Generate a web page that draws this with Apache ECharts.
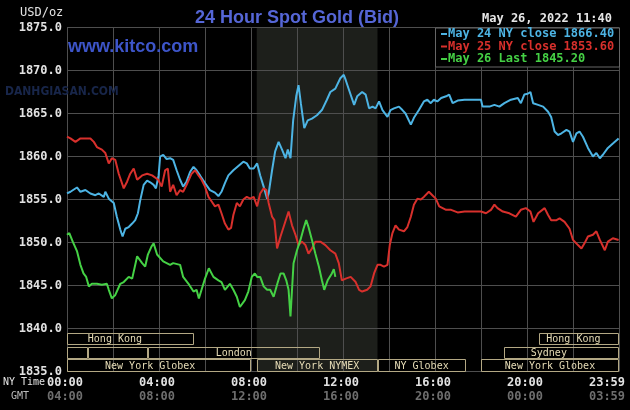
<!DOCTYPE html>
<html><head><meta charset="utf-8">
<script src="https://cdn.jsdelivr.net/npm/echarts@6.0.0/dist/echarts.min.js"></script>
<style>html,body{margin:0;padding:0;background:#000;}#c{width:630px;height:410px;}</style>
</head><body><div id="c"></div>
<script>
// time in minutes after 00:00 NY time, price in USD/oz
const may24 = [[0,1855.7],[9,1855.9],[26,1856.4],[35,1855.9],[48,1856.1],[61,1855.7],[74,1855.5],[83,1855.7],[96,1855.3],[100,1855.9],[109,1855.1],[122,1854.6],[130,1853.0],[139,1851.5],[145,1850.7],[152,1851.6],[161,1851.8],[170,1852.2],[178,1852.6],[185,1853.4],[191,1854.9],[200,1856.7],[209,1857.2],[217,1857.0],[226,1856.7],[232,1856.3],[239,1857.8],[243,1860.0],[251,1860.2],[260,1859.7],[269,1859.8],[277,1859.6],[286,1858.4],[295,1857.3],[303,1856.5],[312,1857.1],[321,1858.2],[330,1858.8],[338,1858.4],[347,1857.8],[360,1856.9],[373,1856.1],[386,1855.8],[395,1855.4],[403,1855.9],[412,1856.9],[421,1857.8],[434,1858.4],[447,1858.9],[460,1859.4],[469,1859.2],[477,1858.6],[487,1858.6],[496,1859.2],[504,1857.8],[513,1856.5],[522,1855.1],[526,1855.7],[535,1858.4],[543,1860.6],[552,1861.7],[561,1860.8],[570,1859.8],[576,1860.8],[583,1859.8],[590,1864.2],[598,1867.0],[604,1868.3],[610,1866.2],[619,1863.3],[628,1864.2],[639,1864.4],[652,1864.8],[665,1865.4],[678,1866.6],[687,1867.5],[700,1867.9],[713,1869.1],[722,1869.5],[727,1868.9],[736,1867.7],[749,1866.0],[757,1867.0],[770,1867.5],[779,1867.2],[788,1865.6],[797,1865.8],[805,1865.6],[814,1866.4],[823,1865.4],[836,1864.6],[844,1865.4],[853,1865.6],[866,1865.8],[875,1865.4],[883,1865.0],[897,1863.7],[905,1864.5],[918,1865.4],[931,1866.4],[940,1866.6],[949,1866.2],[957,1866.6],[966,1866.4],[976,1866.8],[989,1867.0],[997,1867.2],[1006,1866.2],[1019,1866.5],[1037,1866.6],[1080,1866.6],[1084,1865.8],[1102,1865.8],[1115,1866.0],[1128,1865.8],[1141,1866.2],[1158,1866.6],[1176,1866.8],[1184,1866.2],[1193,1867.2],[1202,1867.3],[1209,1867.5],[1216,1866.2],[1229,1866.0],[1242,1865.8],[1255,1865.2],[1263,1864.6],[1272,1862.9],[1281,1862.5],[1290,1862.7],[1303,1863.1],[1311,1862.9],[1320,1861.7],[1329,1862.7],[1337,1862.9],[1346,1862.3],[1359,1861.0],[1372,1860.0],[1381,1860.4],[1390,1859.8],[1398,1860.2],[1411,1861.0],[1424,1861.5],[1439,1862.1]];
const may25 = [[0,1862.3],[9,1862.1],[22,1861.7],[35,1862.1],[48,1862.1],[61,1862.1],[70,1861.7],[78,1861.1],[91,1860.8],[100,1860.4],[109,1859.2],[117,1859.8],[126,1859.6],[135,1858.0],[148,1856.3],[157,1857.1],[165,1858.0],[174,1858.6],[183,1857.3],[196,1857.8],[209,1858.0],[222,1857.8],[238,1857.3],[247,1856.5],[256,1858.4],[263,1858.6],[269,1855.9],[277,1856.7],[286,1855.5],[295,1856.1],[303,1855.9],[312,1856.7],[325,1858.0],[334,1858.4],[343,1857.8],[351,1857.3],[360,1856.5],[369,1855.3],[377,1854.8],[386,1854.2],[395,1854.4],[403,1853.4],[412,1852.2],[421,1851.5],[428,1851.7],[434,1853.2],[443,1854.6],[451,1854.2],[460,1855.0],[469,1855.3],[478,1855.1],[487,1855.3],[496,1854.2],[504,1855.7],[513,1856.3],[520,1856.1],[526,1854.6],[535,1853.0],[541,1852.6],[548,1849.3],[557,1850.7],[565,1851.8],[578,1853.6],[587,1852.0],[596,1850.9],[604,1849.7],[613,1850.1],[622,1849.7],[630,1848.7],[639,1849.3],[648,1850.1],[661,1850.1],[674,1849.7],[687,1849.1],[700,1848.7],[709,1847.6],[717,1845.6],[727,1845.8],[740,1846.0],[753,1845.4],[762,1844.5],[770,1844.3],[783,1844.5],[792,1844.9],[801,1846.4],[810,1847.4],[818,1847.4],[827,1847.2],[836,1847.4],[842,1849.7],[849,1851.1],[857,1852.0],[866,1851.5],[879,1851.3],[888,1851.8],[897,1853.0],[905,1854.4],[914,1855.1],[923,1855.0],[931,1855.3],[944,1855.9],[953,1855.5],[962,1855.1],[971,1854.2],[989,1853.8],[1002,1853.8],[1019,1853.5],[1037,1853.6],[1080,1853.6],[1093,1853.4],[1106,1853.8],[1115,1854.4],[1123,1854.0],[1137,1853.6],[1154,1853.4],[1171,1853.0],[1184,1853.8],[1197,1854.0],[1209,1853.6],[1217,1852.4],[1229,1853.4],[1246,1854.0],[1255,1853.2],[1263,1852.6],[1277,1852.6],[1285,1852.8],[1298,1852.4],[1311,1851.6],[1320,1850.3],[1333,1849.7],[1342,1849.3],[1350,1849.9],[1359,1850.7],[1372,1850.9],[1381,1851.3],[1390,1850.3],[1403,1849.1],[1411,1850.1],[1424,1850.5],[1439,1850.3]];
const may26 = [[0,1850.9],[6,1851.1],[15,1850.1],[26,1849.0],[35,1847.4],[43,1846.4],[50,1846.0],[57,1844.9],[65,1845.2],[78,1845.2],[91,1845.1],[104,1845.2],[109,1844.5],[117,1843.5],[126,1843.9],[139,1845.2],[148,1845.4],[161,1846.0],[170,1845.8],[183,1848.4],[196,1847.6],[204,1847.2],[211,1848.6],[220,1849.5],[226,1849.9],[235,1848.6],[238,1848.4],[251,1847.8],[256,1847.6],[269,1847.4],[277,1847.6],[295,1847.4],[303,1846.0],[317,1845.2],[330,1844.3],[338,1844.5],[344,1843.5],[351,1844.5],[360,1845.8],[370,1847.0],[382,1846.0],[395,1845.6],[403,1845.4],[412,1844.5],[425,1845.2],[434,1844.5],[443,1843.7],[451,1842.5],[464,1843.3],[473,1844.3],[482,1846.0],[490,1846.4],[496,1846.0],[504,1846.0],[513,1844.9],[522,1844.5],[530,1844.5],[539,1843.7],[550,1845.4],[557,1846.4],[565,1846.4],[572,1845.6],[578,1844.5],[583,1841.4],[587,1844.5],[591,1847.6],[600,1849.1],[609,1850.3],[617,1851.6],[624,1852.6],[630,1851.8],[639,1850.3],[648,1848.7],[657,1847.2],[665,1845.6],[671,1844.5],[680,1845.6],[691,1846.4],[696,1846.9],[700,1846.0]];

const seriesNames = ['May 24 NY close', 'May 25 NY close', 'May 26 Last'];
const seriesLast = ['1866.40', '1853.60', '1845.20'];

// market sessions (minutes, NY time); row 0 = top
const sessionLabels = ['Hong Kong', 'Hong Kong', '', '', 'London', 'Sydney', 'New York Globex', 'New York NYMEX', 'NY Globex', 'New York Globex'];
const sessionStart  = [0, 1230, 0, 55, 210, 1140, 0, 495, 810, 1080];
const sessionEnd    = [330, 1440, 55, 210, 660, 1440, 480, 810, 1040, 1440];
const sessionRow    = [0, 0, 1, 1, 1, 1, 2, 2, 2, 2];
const sessionLabelAt = [125, 1321, null, null, null, 1257, 217, null, null, null];

const nymexShade = [495, 810];

const yTicks = {min: 1835, max: 1875, step: 5};
const xTicks = {min: 0, max: 1440, step: 120};

const colors = ['#4db4e4', '#d8302c', '#45d145'];
const MONO = '"DejaVu Sans Mono", monospace';

const rowTop = [1839.45, 1837.9, 1836.42];
const rowBot = [1838.05, 1836.5, 1835.0];

function pad(n){ return (n < 10 ? '0' : '') + n; }

const chart = echarts.init(document.getElementById('c'), null, {renderer: 'canvas'});

const option = {
  backgroundColor: '#000',
  animation: false,
  grid: {left: 67, top: 27.5, width: 552, height: 344, containLabel: false, outerBoundsMode: 'none'},
  title: {
    text: '24 Hour Spot Gold (Bid)', left: 190, top: 4,
    textStyle: {color: '#5566d6', fontFamily: '"Liberation Sans", Arial, sans-serif', fontSize: 18, fontWeight: 'bold'}
  },
  legend: {
    orient: 'vertical', left: 441, top: 28, padding: 0, itemGap: 0.5,
    itemWidth: 6, itemHeight: 2, icon: 'rect',
    selectedMode: false,
    data: seriesNames.map((n, i) => ({name: n, textStyle: {color: colors[i]}})),
    formatter: n => n + ' ' + seriesLast[seriesNames.indexOf(n)],
    textStyle: {fontFamily: MONO, fontSize: 12, fontWeight: 'bold', padding: [0, 0, 0, -4], lineHeight: 12}
  },
  xAxis: {
    type: 'value', min: xTicks.min, max: xTicks.max, interval: xTicks.step,
    axisLine: {show: false}, axisTick: {show: false},
    splitLine: {show: true, lineStyle: {color: '#4e4e4e', width: 1}},
    axisLabel: {
      margin: 4, showMinLabel: true, showMaxLabel: true, hideOverlap: false,
      formatter: function (v) {
        if (v % 240 !== 0 && v !== 1440) return '';
        if (v === 1440) return '{c|23:59}\n{d|03:59}';
        const h = v / 60;
        return '{a|' + pad(h) + ':00}\n{b|' + pad((h + 4) % 24) + ':00}';
      },
      rich: {
        a: {color: '#e2e2e2', fontFamily: MONO, fontSize: 12, fontWeight: 'bold', lineHeight: 14.5, padding: [0, 4, 0, 0]},
        b: {color: '#6e6e6e', fontFamily: MONO, fontSize: 12, fontWeight: 'bold', lineHeight: 14.5, padding: [0, 4, 0, 0]},
        c: {color: '#e2e2e2', fontFamily: MONO, fontSize: 12, fontWeight: 'bold', lineHeight: 14.5, padding: [0, 24, 0, 0]},
        d: {color: '#6e6e6e', fontFamily: MONO, fontSize: 12, fontWeight: 'bold', lineHeight: 14.5, padding: [0, 24, 0, 0]}
      }
    }
  },
  yAxis: {
    type: 'value', min: yTicks.min, max: yTicks.max, interval: yTicks.step,
    axisLine: {show: false}, axisTick: {show: false},
    splitLine: {show: true, lineStyle: {color: '#4e4e4e', width: 1}},
    axisLabel: {
      margin: 5, color: '#e2e2e2', fontFamily: MONO, fontSize: 12, fontWeight: 'bold',
      formatter: v => v.toFixed(1)
    }
  },
  graphic: [
    {type: 'text', left: 20, top: 7, z: 5, style: {text: 'USD/oz', fill: '#e2e2e2', font: '12px ' + MONO}},
    {type: 'text', left: 3, top: 377, z: 5, style: {text: 'NY Time', fill: '#e2e2e2', font: '10px ' + MONO}},
    {type: 'text', left: 11, top: 391, z: 5, style: {text: 'GMT', fill: '#bdbdbd', font: '10px ' + MONO}},
    {type: 'text', left: 482, top: 13, z: 5, style: {text: 'May 26, 2022 11:40', fill: '#e6e6e6', font: 'bold 12px ' + MONO}},
    {type: 'text', left: 5, top: 86, z: 1, style: {text: 'DANHGIASAN.COM', fill: '#18264a', font: 'bold 12px "DejaVu Sans Condensed", sans-serif'}},
    {type: 'text', left: 68, top: 38, z: 5, style: {text: 'www.kitco.com', fill: '#3d55c9', font: 'bold 18px "Liberation Sans", Arial, sans-serif'}},
    {type: 'rect', left: 435, top: 27.5, z: 3, shape: {width: 184, height: 39}, style: {fill: '#000', stroke: '#666', lineWidth: 1}}
  ],
  series: [
    {
      type: 'custom', name: 'shade', z: -1, silent: true,
      data: [nymexShade],
      renderItem: function (params, api) {
        const p1 = api.coord([api.value(0), yTicks.max]);
        const p2 = api.coord([api.value(1), yTicks.min]);
        return {type: 'rect', shape: {x: p1[0], y: p1[1], width: p2[0] - p1[0], height: p2[1] - p1[1]}, style: {fill: '#1d1f1b'}};
      }
    },
    {
      type: 'custom', name: 'sessions', z: 1, silent: true,
      data: sessionStart.map((s, i) => [s, sessionEnd[i], sessionRow[i]]),
      renderItem: function (params, api) {
        const i = params.dataIndex;
        const s = api.value(0), e = api.value(1), r = api.value(2);
        const p1 = api.coord([s, rowTop[r]]);
        const p2 = api.coord([e, rowBot[r]]);
        const x1 = Math.round(p1[0]) + 0.5, x2 = Math.round(p2[0]) - 0.5;
        const y1 = Math.round(p1[1]) + 0.5, y2 = Math.round(p2[1]) - 0.5;
        const children = [{type: 'rect', shape: {x: x1, y: y1, width: x2 - x1, height: y2 - y1}, style: {fill: null, stroke: '#b3a884', lineWidth: 1}}];
        if (sessionLabels[i]) {
          const cx = sessionLabelAt[i] != null ? api.coord([sessionLabelAt[i], rowTop[r]])[0] : (p1[0] + p2[0]) / 2;
          children.push({type: 'text', style: {text: sessionLabels[i], x: cx, y: (y1 + y2) / 2 + 0.5, align: 'center', verticalAlign: 'middle', fill: '#e6dcb6', font: '10px ' + MONO}});
        }
        return {type: 'group', children: children};
      }
    },
    {name: seriesNames[0], type: 'line', data: may24, showSymbol: false, z: 2, lineStyle: {color: colors[0], width: 2}, itemStyle: {color: colors[0]}},
    {name: seriesNames[1], type: 'line', data: may25, showSymbol: false, z: 2, lineStyle: {color: colors[1], width: 2}, itemStyle: {color: colors[1]}},
    {name: seriesNames[2], type: 'line', data: may26, showSymbol: false, z: 2, lineStyle: {color: colors[2], width: 2}, itemStyle: {color: colors[2]}}
  ]
};
chart.setOption(option);
</script>
</body></html>
